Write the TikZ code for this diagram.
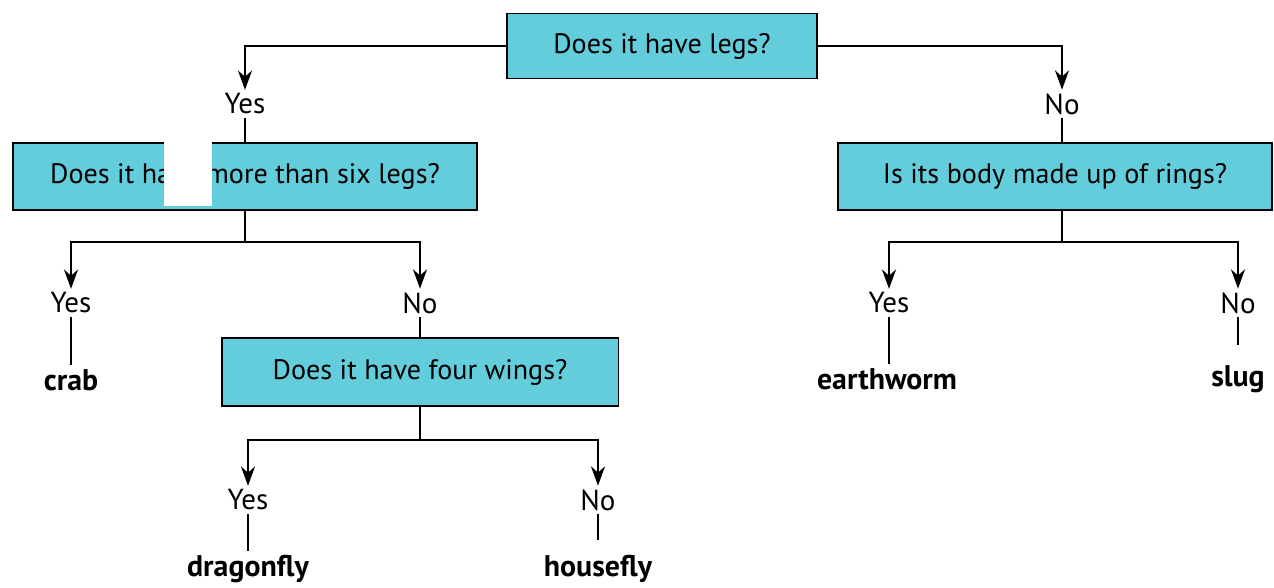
\documentclass[tikz,border=0pt]{standalone}
\usepackage{fontspec}
\setmainfont{PT Sans}
\usetikzlibrary{arrows.meta}
\definecolor{keycyan}{RGB}{100,205,219}
\begin{document}
\begin{tikzpicture}[x=0.02cm,y=-0.02cm,
    question/.style ={rectangle, draw, line width=1.1pt, fill=keycyan, font=\fontsize{16}{18}\selectfont, inner sep=0pt},
    answer/.style ={font=\fontsize{16.5}{18}\selectfont, inner sep=2pt},
    animal/.style ={font=\fontsize{17}{19}\selectfont\bfseries, inner sep=2pt},
    stem/.style ={line width=1.1pt},
    branch/.style ={line width=1.1pt, -{Stealth[length=11pt,width=8pt]}}]
   \useasboundingbox (0,0) rectangle (1274,588);

   \node[question, minimum width=6.2cm, minimum height=1.3cm] (Q1) at (662,46)  {Does it have legs?};
   \node[answer] (Y1) at (245,104)  {Yes};
   \node[answer] (N1) at (1062,104)  {No};

   \node[question, minimum width=9.3cm, minimum height=1.34cm] (Q2) at (245,176.5)  {Does it have more than six legs?};
   \node[question, minimum width=8.68cm, minimum height=1.34cm] (Q4) at (1055,176.5)  {Is its body made up of rings?};

   \node[answer] (Y2) at (71,303)  {Yes};
   \node[answer] (N2) at (420,303)  {No};
   \node[animal] (crab) at (71,380)  {crab};

   \node[question, minimum width=7.94cm, minimum height=1.36cm] (Q3) at (420,372)  {Does it have four wings?};
   \node[answer] (Y3) at (248,500)  {Yes};
   \node[answer] (N3) at (598,500)  {No};
   \node[animal] (dragonfly) at (248,569)  {dragonfly};
   \node[animal] (housefly) at (598,569)  {housefly};

   \node[answer] (Y4) at (889,303)  {Yes};
   \node[answer] (N4) at (1238,303)  {No};
   \node[animal] (earthworm) at (887,379)  {earthworm};
   \node[animal] (slug) at (1238,379)  {slug};

   \coordinate (J2) at (245,242);
   \coordinate (J3) at (420,440);
   \coordinate (J4) at (1062,242);

   \draw[branch] (Q1.west) -| (Y1.north);
   \draw[branch] (Q1.east) -| (N1.north);
   \draw[stem] (Y1.south) to  (Q2.north);
   \draw[stem] (N1.south) to  (N1.south |- Q4.north);

   \draw[stem] (Q2.south) to  (J2);
   \draw[branch] (J2) -| (Y2.north);
   \draw[branch] (J2) -| (N2.north);
   \draw[stem] (Y2.south) to  (crab.north);
   \draw[stem] (N2.south) to  (N2.south |- Q3.north);

   \draw[stem] (Q3.south) to  (J3);
   \draw[branch] (J3) -| (Y3.north);
   \draw[branch] (J3) -| (N3.north);
   \draw[stem] (Y3.south) to  (Y3.south |- dragonfly.north);
   \draw[stem] (N3.south) to  ++(0,26);

   \draw[stem] (J4 |- Q4.south) to  (J4);
   \draw[branch] (J4) -| (Y4.north);
   \draw[branch] (J4) -| (N4.north);
   \draw[stem] (Y4.south) to  (Y4.south |- earthworm.north);
   \draw[stem] (N4.south) to  ++(0,28);

   \fill[white] (164,142) rectangle (212,206);
 \end{tikzpicture}
\end{document}
